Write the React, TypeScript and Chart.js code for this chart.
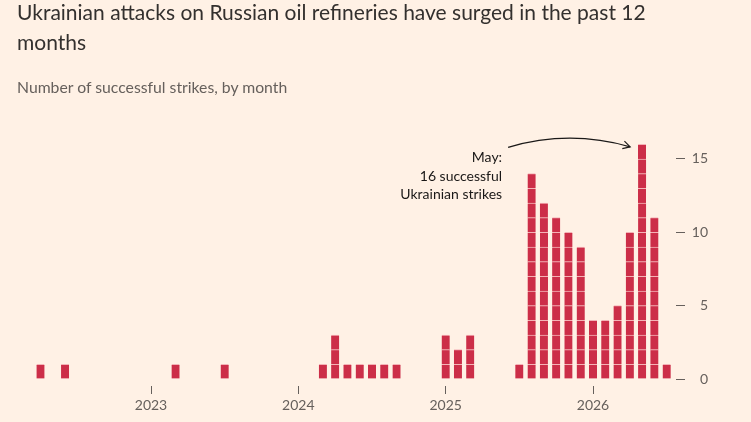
import React, { useEffect, useRef } from "react";
import { Chart, registerables } from "chart.js";

Chart.register(...registerables);

// ---- data ----
const months = [
  "2022-01","2022-02","2022-03","2022-04","2022-05","2022-06","2022-07","2022-08","2022-09","2022-10","2022-11","2022-12",
  "2023-01","2023-02","2023-03","2023-04","2023-05","2023-06","2023-07","2023-08","2023-09","2023-10","2023-11","2023-12",
  "2024-01","2024-02","2024-03","2024-04","2024-05","2024-06","2024-07","2024-08","2024-09","2024-10","2024-11","2024-12",
  "2025-01","2025-02","2025-03","2025-04","2025-05","2025-06","2025-07","2025-08","2025-09","2025-10","2025-11","2025-12",
  "2026-01","2026-02","2026-03","2026-04","2026-05","2026-06","2026-07",
];
const strikes = [
  0, 0, 0, 1, 0, 1, 0, 0, 0, 0, 0, 0,
  0, 0, 1, 0, 0, 0, 1, 0, 0, 0, 0, 0,
  0, 0, 1, 3, 1, 1, 1, 1, 1, 0, 0, 0,
  3, 2, 3, 0, 0, 0, 1, 14, 12, 11, 10, 9,
  4, 4, 5, 10, 16, 11, 1,
];
const yearTickLabels = ["2023", "2024", "2025", "2026"];
const yTickValues = [0, 5, 10, 15];
const annotationMonth = "2026-05";
const annotationLines = ["May:", "16 successful", "Ukrainian strikes"];

const titleLines = [
  "Ukrainian attacks on Russian oil refineries have surged in the past 12",
  "months",
];
const subtitle = "Number of successful strikes, by month";

// ---- styles ----
const BG = "#fff1e5";
const BAR = "#cc2e48";
const GAP = "#f4b3b6";
const TEXT = "#33302e";
const MUTED = "#66605c";
const FONT = "Lato, 'Noto Sans', sans-serif";

const annotationPlugin = {
  id: "mayNote",
  afterDatasetsDraw(chart: any) {
    const { ctx, scales } = chart;
    const x = scales.x;
    const y = scales.y;
    const i = months.indexOf(annotationMonth);
    const bx = x.getPixelForValue(i);
    const by = y.getPixelForValue(strikes[i]);
    ctx.save();
    ctx.font = `14px ${FONT}`;
    ctx.fillStyle = "#1a1817";
    ctx.textAlign = "right";
    ctx.textBaseline = "alphabetic";
    const tx = bx - 140;
    annotationLines.forEach((l, k) => ctx.fillText(l, tx, by + 18 + k * 18.5));
    // arrow
    const sx = bx - 134, sy = by + 3;
    const cx = bx - 73, cy = by - 15;
    const ex = bx - 12, ey = by + 2.5;
    ctx.strokeStyle = "#1a1817";
    ctx.lineWidth = 1.2;
    ctx.beginPath();
    ctx.moveTo(sx, sy);
    ctx.quadraticCurveTo(cx, cy, ex, ey);
    ctx.stroke();
    const ang = Math.atan2(ey - cy, ex - cx);
    const hl = 8;
    ctx.beginPath();
    ctx.moveTo(ex - hl * Math.cos(ang - 0.5), ey - hl * Math.sin(ang - 0.5));
    ctx.lineTo(ex, ey);
    ctx.lineTo(ex - hl * Math.cos(ang + 0.5), ey - hl * Math.sin(ang + 0.5));
    ctx.stroke();
    ctx.restore();
  },
};

export default function App() {
  const ref = useRef<HTMLCanvasElement | null>(null);

  useEffect(() => {
    if (!ref.current) return;
    const maxVal = Math.max(...strikes);
    const datasets = [] as any[];
    for (let k = 1; k <= maxVal; k++) {
      datasets.push({
        label: `unit ${k}`,
        data: strikes
          .map((v, i) => (v >= k ? { x: i, y: 1 } : null))
          .filter((p) => p !== null),
        backgroundColor: BAR,
        borderColor: GAP,
        borderWidth: { top: 1, right: 0, bottom: 0, left: 0 },
        borderSkipped: false,
        barThickness: 8,
        stack: "s",
      });
    }
    const chart = new Chart(ref.current, {
      type: "bar",
      data: { datasets },
      plugins: [annotationPlugin],
      options: {
        animation: false,
        responsive: false,
        layout: { padding: { left: 17, top: 138, right: 43, bottom: 0 } },
        plugins: { legend: { display: false }, tooltip: { enabled: false } },
        scales: {
          x: {
            type: "linear",
            min: 1.086,
            max: 54.76,
            stacked: true,
            offset: false,
            afterBuildTicks: (s: any) => {
              s.ticks = yearTickLabels.map((yr) => ({ value: months.indexOf(`${yr}-01`) }));
            },
            afterFit: (s: any) => {
              s.height = 36;
            },
            ticks: {
              autoSkip: false,
              maxRotation: 0,
              padding: 3,
              color: MUTED,
              font: { family: FONT, size: 14 },
              callback: (v: any) => months[Math.round(Number(v))]?.slice(0, 4) ?? "",
            },
            grid: { offset: false, drawOnChartArea: false, drawTicks: true, tickLength: 8, tickColor: MUTED, tickWidth: 1 },
            border: { display: false },
          },
          y: {
            position: "right",
            min: -0.477,
            max: 16.43,
            stacked: true,
            afterBuildTicks: (s: any) => {
              s.ticks = yTickValues.map((v) => ({ value: v }));
            },
            afterFit: (s: any) => {
              s.width = 32;
            },
            ticks: {
              padding: 7,
              crossAlign: "far",
              color: MUTED,
              font: { family: FONT, size: 14 },
              callback: (v: any) => String(v),
            },
            grid: { drawOnChartArea: false, drawTicks: true, tickLength: 9, tickColor: MUTED, tickWidth: 1 },
            border: { display: false },
          },
        },
      } as any,
    });
    return () => chart.destroy();
  }, []);

  return (
    <div
      style={{
        position: "fixed",
        left: 0,
        top: 0,
        width: 751,
        height: 422,
        background: BG,
        overflow: "hidden",
      }}
    >
      <canvas ref={ref} width={751} height={422} style={{ position: "absolute", left: 0, top: 0, width: 751, height: 422 }} />
      <div
        style={{
          position: "absolute",
          left: 17,
          top: -3,
          fontFamily: FONT,
          fontSize: 21,
          lineHeight: "30px",
          color: TEXT,
          whiteSpace: "nowrap",
        }}
      >
        {titleLines.map((l, i) => (
          <div key={i}>{l}</div>
        ))}
      </div>
      <div
        style={{
          position: "absolute",
          left: 17,
          top: 77,
          fontFamily: FONT,
          fontSize: 15.75,
          lineHeight: "20px",
          color: MUTED,
          whiteSpace: "nowrap",
        }}
      >
        {subtitle}
      </div>
    </div>
  );
}
